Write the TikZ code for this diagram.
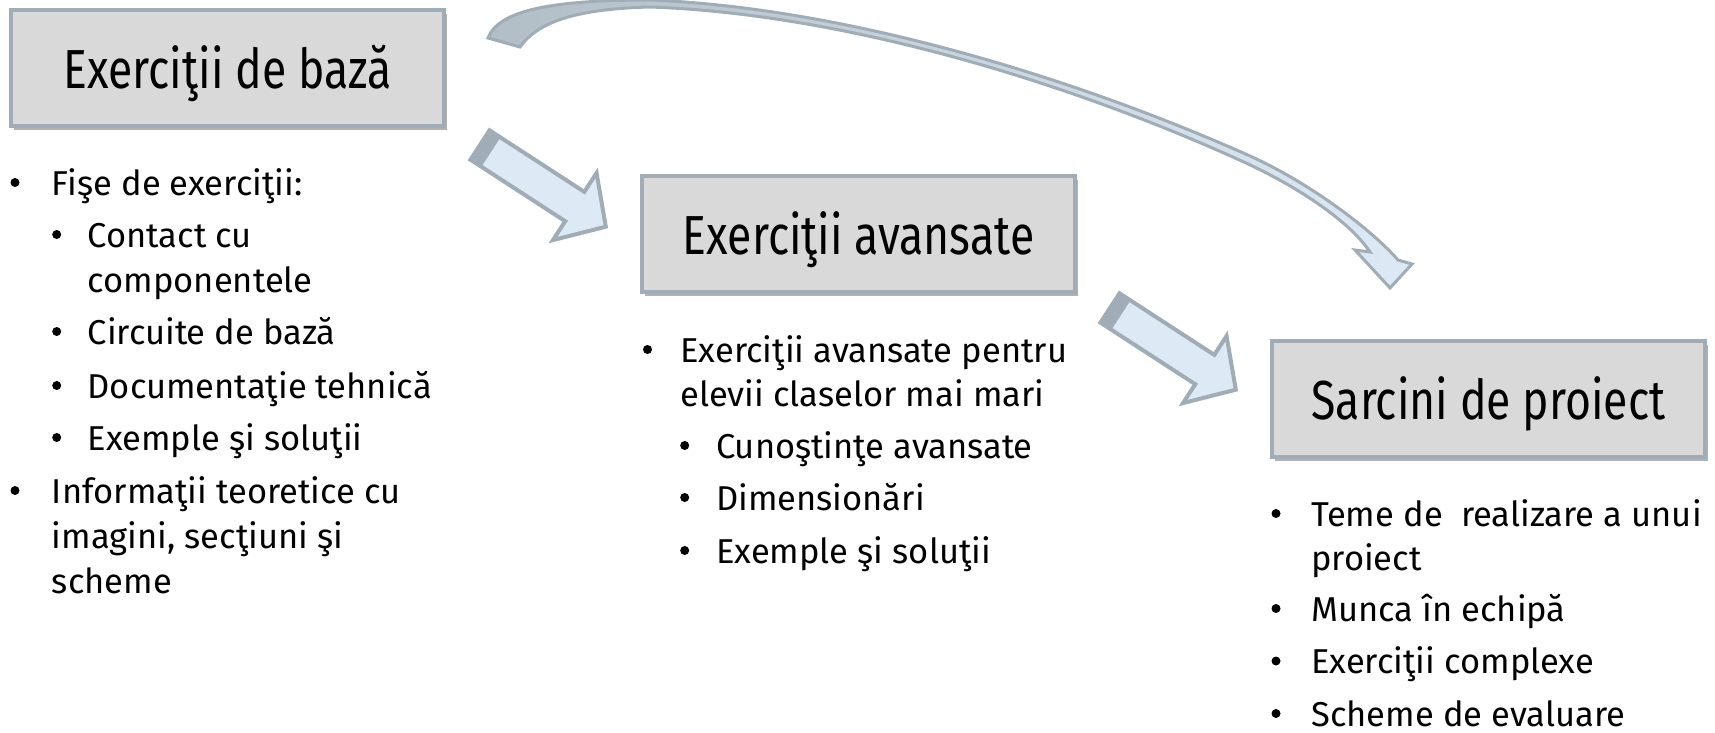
\documentclass[tikz,border=0pt]{standalone}
\usepackage{fontspec}
\setmainfont{Fira Sans}
\newfontfamily\titlefont[FakeStretch=0.81]{Fira Sans}
\usetikzlibrary{shadows}

\definecolor{boxfill}{HTML}{D9D9D9}
\definecolor{edgegray}{HTML}{A0ADB6}
\definecolor{tailgray}{HTML}{B2BEC6}
\definecolor{arrowfill}{HTML}{DDEAF5}

\begin{document}
\begin{tikzpicture}[x=1pt, y=-1pt,
    box/.style={draw=edgegray, line width=4pt, fill=boxfill, minimum width=433pt, minimum height=116pt,
      text height=45pt, text depth=4pt, font=\titlefont\fontsize{55}{60}\selectfont,
      drop shadow={shadow xshift=3pt, shadow yshift=-4pt, fill=black, opacity=0.3}},
    itm/.style={anchor=base west, inner sep=0pt, font=\fontsize{34.5}{40}\selectfont},
    dot/.style={circle, fill=black, inner sep=0pt, minimum size=9pt},
    blockarrow/.pic={
      \fill[arrowfill] (0,-17.5) -- (113,-17.5) -- (113,-40) -- (150,0) -- (113,40) -- (113,17.5) -- (0,17.5) -- cycle;
      \fill[edgegray] (0,-17.5) -- (13,-17.5) -- (13,17.5) -- (0,17.5) -- cycle;
      \draw[edgegray, line width=4pt, line join=miter] (0,-17.5) -- (113,-17.5) -- (113,-40) -- (150,0) -- (113,40) -- (113,17.5) -- (0,17.5) -- cycle;
    }]
    \useasboundingbox (0,0) rectangle (1715,733);

    % the three boxes
    \node[box] (basic) at (227.5,68) {Exerciţii de bază};
    \node[box] (adv) at (858.5,234) {Exerciţii avansate};
    \node[box] (proj) at (1488.5,399) {Sarcini de proiect};

    % straight arrows between boxes
    \coordinate (a1) at (480,145);
    \coordinate (a2) at (1110,308);
    \pic[rotate=-33] at (a1) {blockarrow};
    \pic[rotate=-33] at (a2) {blockarrow};

    % curved arrow from the first box to the last
    \draw[edgegray, line width=3pt, line join=miter, left color=tailgray, right color=arrowfill]
      (488,38) .. controls (498,12) and (545,0) .. (650,0)
      .. controls (850,8) and (1080,80) .. (1250,156)
      .. controls (1310,183) and (1372,230) .. (1398,260)
      -- (1412,264) -- (1390,288) -- (1355,250) -- (1370,252)
      .. controls (1350,222) and (1300,188) .. (1246,163)
      .. controls (1078,86) and (850,14) .. (650,7)
      .. controls (575,9) and (538,22) .. (520,47) -- cycle;

    % list under the first box
    \node[dot] (d1) at (15,182.5) {};
    \node[itm] (t1) at (51.7,195) {Fişe de exerciţii:};
    \node[dot] (d2) at (56.7,234.5) {};
    \node[itm] (t2) at (87.5,247) {Contact cu};
    \node[itm] (t2b) at (87.5,292) {componentele};
    \node[dot] (d3) at (56.7,331.5) {};
    \node[itm] (t3) at (87.5,344) {Circuite de bază};
    \node[dot] (d4) at (56.7,385.5) {};
    \node[itm] (t4) at (87.5,398) {Documentaţie tehnică};
    \node[dot] (d5) at (56.7,437.5) {};
    \node[itm] (t5) at (87.5,450) {Exemple şi soluţii};
    \node[dot] (d6) at (15,490.5) {};
    \node[itm] (t6) at (51.7,503) {Informaţii teoretice cu};
    \node[itm] (t6b) at (51.7,548) {imagini, secţiuni şi};
    \node[itm] (t6c) at (51.7,593) {scheme};

    % list under the second box
    \node[dot] (e1) at (647.5,349.5) {};
    \node[itm] (u1) at (680.3,362) {Exerciţii avansate pentru};
    \node[itm] (u1b) at (680.3,406) {elevii claselor mai mari};
    \node[dot] (e2) at (684.7,445.5) {};
    \node[itm] (u2) at (716,458) {Cunoştinţe avansate};
    \node[dot] (e3) at (684.7,497.5) {};
    \node[itm] (u3) at (716,510) {Dimensionări};
    \node[dot] (e4) at (684.7,550.5) {};
    \node[itm] (u4) at (716,563) {Exemple şi soluţii};

    % list under the third box
    \node[dot] (f1) at (1276,513.5) {};
    \node[itm] (v1) at (1311,526) {Teme de\ \ realizare a unui};
    \node[itm] (v1b) at (1311,570) {proiect};
    \node[dot] (f2) at (1276,608.5) {};
    \node[itm] (v2) at (1311,621) {Munca în echipă};
    \node[dot] (f3) at (1276,661) {};
    \node[itm] (v3) at (1311,673.5) {Exerciţii complexe};
    \node[dot] (f4) at (1276,713.5) {};
    \node[itm] (v4) at (1311,726) {Scheme de evaluare};
\end{tikzpicture}
\end{document}
